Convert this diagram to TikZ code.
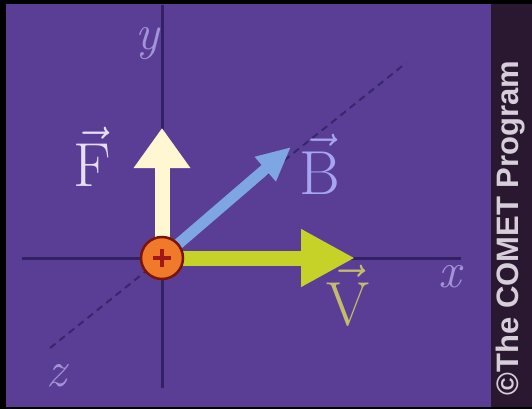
\documentclass[tikz,border=0pt]{standalone}
\usepackage{graphicx}
\usepackage{fontspec}
\usetikzlibrary{arrows.meta}
\newfontfamily\cometfont{Liberation Sans}

\definecolor{bgpurple}{HTML}{5A3E96}
\definecolor{stripcol}{HTML}{2A1830}
\definecolor{striptext}{HTML}{D6CED8}
\definecolor{axiscol}{HTML}{322264}
\definecolor{labgray}{HTML}{A294D6}
\definecolor{fcol}{HTML}{FFF6D2}
\definecolor{bcol}{HTML}{7EA6E2}
\definecolor{vcol}{HTML}{C6D228}
\definecolor{flab}{HTML}{E6DEF2}
\definecolor{blab}{HTML}{A6A6F0}
\definecolor{vlab}{HTML}{C4BC6C}
\definecolor{chargeorange}{HTML}{F07A2A}
\definecolor{chargered}{HTML}{7A1408}
\definecolor{plusred}{HTML}{A01818}

\newcommand{\veclab}[1]{\scalebox{2.5}{$\vec{\mathrm{#1}}$}}

\begin{document}
\begin{tikzpicture}[x=1pt, y=-1pt,
  axis/.style={draw=axiscol, line width=3pt},
  zaxis/.style={draw=axiscol!85!bgpurple, line width=2pt, dash pattern=on 7pt off 5pt},
  axlabel/.style={text=labgray, font=\fontsize{50}{50}\selectfont\itshape, inner sep=0pt},
  veclabel/.style={font=\Huge, inner sep=0pt},
  charge/.style={circle, fill=chargeorange, draw=chargered, line width=2.5pt, minimum size=42pt, inner sep=0pt}
]
\useasboundingbox (0,0) rectangle (532,409);
\fill[black] (0,0) rectangle (532,409);
\fill[bgpurple] (6,4) rectangle (491,407);
\fill[stripcol] (491,4) rectangle (532,407);

% axes
\coordinate (O) at (162,258);
\coordinate (xl) at (22,258);
\coordinate (xr) at (461,258);
\coordinate (yt) at (162,5);
\coordinate (yb) at (162,388);
\coordinate (zb) at (50,348);
\coordinate (zt) at (406,63);
\draw[zaxis] (zb) -- (zt);
\draw[axis] (xl) -- (xr);
\draw[axis] (yt) -- (yb);

\node[axlabel] (ylab) at (147,44) {y};
\node[axlabel] (xlab) at (450,277) {x};
\node[axlabel] (zlab) at (56,376) {z};

% vectors
\coordinate (Ftip) at (162,128);
\coordinate (Btip) at (291,147);
\coordinate (vtip) at (355,258);
\draw[line width=11pt, bcol, -{Triangle[width=30pt,length=34pt]}] (O) -- (Btip);
\draw[line width=15pt, fcol, -{Triangle[width=54pt,length=40pt]}] (O) -- (Ftip);
\draw[line width=15pt, vcol, -{Triangle[width=54pt,length=54pt]}] (O) -- (vtip);

\node[veclabel, text=flab] (Flab) at (92,157) {\veclab{F}};
\node[veclabel, text=blab] (Blab) at (320,164) {\veclab{B}};
\node[veclabel, text=vlab] (vlab) at (348,296) {\veclab{V}};

% charge
\node[charge] (q) at (O) {};
\draw[plusred, line width=4pt] ([xshift=-9pt]q.center) -- ([xshift=9pt]q.center);
\draw[plusred, line width=4pt] ([yshift=-9pt]q.center) -- ([yshift=9pt]q.center);

\node[rotate=90, text=striptext, font=\cometfont\bfseries\fontsize{31}{31}\selectfont, inner sep=0pt] (credit) at (511,228) {©The COMET Program};
\end{tikzpicture}
\end{document}
